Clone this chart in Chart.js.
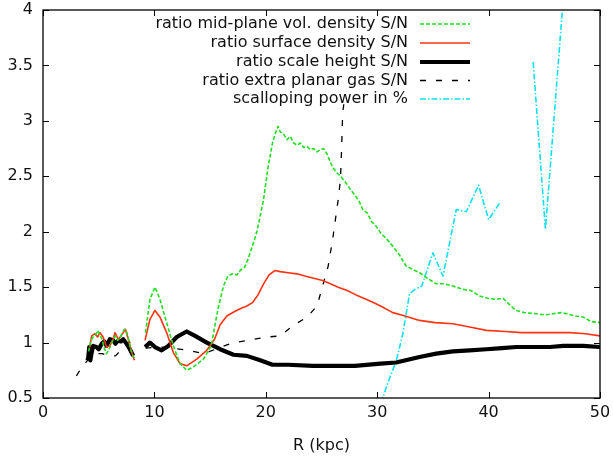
<!DOCTYPE html>
<html>
<head>
<meta charset="utf-8">
<script src="https://cdn.jsdelivr.net/npm/chart.js@4/dist/chart.umd.min.js"></script>
<style>
html,body{margin:0;padding:0;background:#fff;}
#wrap{width:613px;height:457px;position:relative;}
</style>
</head>
<body>
<div id="wrap"><canvas id="c" width="613" height="457"></canvas></div>
<script>
// ---- data ----
const labels = [
  'ratio mid-plane vol. density S/N',
  'ratio surface density S/N',
  'ratio scale height S/N',
  'ratio extra planar gas S/N',
  'scalloping power in %'
];
const xTicks = [0, 10, 20, 30, 40, 50];
const yTicks = [0.5, 1, 1.5, 2, 2.5, 3, 3.5, 4];

// mid-plane volume density ratio (null = gap)
const midR = [4.1,4.3,4.5,4.7,4.9,5.1,5.3,5.5,5.7,5.9,6.1,6.3,6.5,6.7,6.9,7.1,7.3,7.5,7.7,7.9,8.1,8.2,
  8.6,
  9.2,9.6,10.05,10.5,11.1,11.7,12.3,12.9,13.5,14.4,15.1,15.7,16.2,16.6,17.0,17.4,17.7,18.1,18.4,18.8,19.2,19.8,20.2,20.6,20.9,21.1,21.3,21.6,21.9,22.2,22.5,22.8,23.1,23.4,23.7,24.0,24.3,24.6,24.9,25.2,25.5,26.0,26.4,26.8,27.2,27.6,28.0,28.4,28.7,29.1,29.5,29.9,30.3,30.8,31.4,32.0,32.6,33.2,33.8,34.5,35.3,36.0,36.8,37.7,38.4,39.2,39.9,40.7,41.3,42.0,42.5,43.2,44.3,45.0,45.8,46.5,47.0,47.8,48.5,49.2,50];
const midV = [0.92,1.02,1.05,1.06,1.11,1.07,1.03,0.95,0.90,0.93,0.98,1.03,1.06,1.02,1.04,1.08,1.12,1.10,1.02,0.93,0.88,0.86,
  null,
  1.09,1.39,1.50,1.39,1.18,0.97,0.81,0.75,0.78,0.85,0.97,1.30,1.51,1.60,1.62,1.61,1.65,1.68,1.75,1.87,2.00,2.29,2.58,2.80,2.90,2.95,2.90,2.88,2.83,2.86,2.80,2.78,2.80,2.76,2.77,2.74,2.75,2.72,2.74,2.75,2.70,2.58,2.53,2.49,2.44,2.38,2.33,2.27,2.20,2.17,2.09,2.05,1.99,1.94,1.87,1.79,1.69,1.66,1.63,1.58,1.53,1.53,1.51,1.48,1.47,1.42,1.40,1.39,1.40,1.33,1.29,1.27,1.26,1.25,1.26,1.27,1.26,1.24,1.23,1.19,1.18];

// surface density ratio
const surfR = [4.2,4.37,4.67,4.9,5.1,5.4,5.7,6.0,6.3,6.46,6.76,7.0,7.2,7.4,7.66,7.96,8.2,
  8.6,
  9.16,9.6,10.05,10.5,11.1,11.7,12.3,12.9,13.8,14.7,15.4,15.9,16.5,17.2,17.8,18.3,18.8,19.3,19.8,20.3,20.8,21.3,22.0,22.8,23.5,24.3,25.1,25.8,26.5,27.3,28.1,29.0,29.7,30.3,31.4,32.5,33.8,35.2,36.8,38.3,39.8,41.5,43.0,44.3,45.8,47.3,48.7,50];
const surfV = [0.96,1.06,1.08,1.05,1.09,1.05,0.96,0.97,1.03,1.09,1.03,1.06,1.09,1.12,1.03,0.91,0.84,
  null,
  1.02,1.21,1.29,1.23,1.09,0.91,0.81,0.79,0.85,0.93,1.03,1.16,1.24,1.28,1.31,1.33,1.36,1.43,1.53,1.61,1.65,1.64,1.63,1.62,1.60,1.58,1.56,1.53,1.50,1.47,1.43,1.39,1.36,1.33,1.27,1.24,1.20,1.18,1.17,1.14,1.11,1.10,1.09,1.09,1.09,1.09,1.08,1.06];

// scale height ratio
const hR = [4.0,4.07,4.15,4.25,4.35,4.5,4.8,5.0,5.27,5.5,5.7,6.0,6.3,6.5,6.76,7.0,7.2,7.5,7.8,8.1,
  8.6,
  9.16,9.6,10.05,10.65,11.25,12.0,12.9,13.65,14.7,15.9,17.1,18.3,19.5,20.6,22.0,24.2,26.0,28.0,30.3,31.7,33.8,35.3,36.8,38.3,39.8,41.2,42.5,44.0,45.5,46.7,48.5,50];
const hV = [0.84,0.87,0.96,0.84,0.90,0.97,0.96,0.94,0.99,1.01,0.97,1.03,1.02,0.99,1.02,1.01,1.03,0.99,0.94,0.88,
  null,
  0.96,1.00,0.96,0.93,0.97,1.05,1.10,1.06,1.00,0.94,0.89,0.88,0.84,0.80,0.80,0.79,0.79,0.79,0.81,0.82,0.87,0.90,0.92,0.93,0.94,0.95,0.96,0.96,0.96,0.97,0.97,0.96];

// extra planar gas ratio
const epR = [3.0,3.5,4.0,4.5,5.0,5.3,5.9,6.5,7.0,7.5,8.1,
  8.6,
  9.2,10.5,11.5,13.0,14.4,15.5,16.8,18.3,20.1,21.3,22.4,23.7,24.6,25.1,25.6,26.0,26.5,26.7,26.8,26.9,27.0];
const epV = [0.70,0.78,0.84,0.88,0.90,0.90,0.88,0.88,0.93,0.98,1.03,
  null,
  0.95,0.96,0.95,0.93,0.90,0.94,0.99,1.02,1.05,1.06,1.15,1.23,1.33,1.51,1.69,1.93,2.29,2.47,2.74,3.07,3.15];

// scalloping power in %
const scR = [30.2,30.5,31.0,31.7,32.3,32.9,33.4,34.0,35.0,35.9,37.1,38.0,39.1,40.0,41.0,
  42.5,
  44.0,45.1,46.6,47.0];
const scV = [0.35,0.50,0.65,0.83,1.08,1.44,1.48,1.51,1.81,1.60,2.20,2.18,2.42,2.11,2.26,
  null,
  3.53,2.02,3.97,4.30];

function pts(xs, ys){ return xs.map((x,i)=>({x:x, y:ys[i]})); }

const FONT = '"DejaVu Sans", sans-serif';

const dsStyle = [
  {color:'#22dd22', width:1.6, dash:[4,2]},
  {color:'#ff3311', width:1.6, dash:[]},
  {color:'#000000', width:4.2, dash:[]},
  {color:'#000000', width:1.3, dash:[6,10]},
  {color:'#11e0ee', width:1.6, dash:[6,2,1.5,2]}
];
const series = [pts(midR,midV), pts(surfR,surfV), pts(hR,hV), pts(epR,epV), pts(scR,scV)];

const datasets = series.map((d,i)=>({
  label: labels[i],
  data: d,
  borderColor: dsStyle[i].color,
  borderWidth: dsStyle[i].width,
  borderDash: dsStyle[i].dash,
  borderJoinStyle: 'round',
  borderCapStyle: 'butt',
  pointRadius: 0,
  tension: 0,
  spanGaps: false,
  fill: false
}));

const framePlugin = {
  id:'frame',
  afterDraw(chart){
    const {ctx, chartArea:a, scales:{x,y}} = chart;
    ctx.save();
    ctx.strokeStyle = '#000';
    ctx.lineWidth = 1;
    ctx.setLineDash([]);
    ctx.beginPath();
    const L = 6;
    xTicks.forEach(v=>{
      const px = Math.round(x.getPixelForValue(v))+0.5;
      ctx.moveTo(px, a.bottom); ctx.lineTo(px, a.bottom-L);
      ctx.moveTo(px, a.top); ctx.lineTo(px, a.top+L);
    });
    yTicks.forEach(v=>{
      const py = Math.round(y.getPixelForValue(v))+0.5;
      ctx.moveTo(a.left, py); ctx.lineTo(a.left+L, py);
      ctx.moveTo(a.right, py); ctx.lineTo(a.right-L, py);
    });
    ctx.stroke();
    ctx.lineWidth = 1.3;
    ctx.strokeRect(a.left, a.top, a.right-a.left, a.bottom-a.top);
    // key
    ctx.font = '16px ' + FONT;
    ctx.fillStyle = '#111';
    ctx.textAlign = 'right';
    ctx.textBaseline = 'middle';
    const rows = [24, 43, 62, 80.5, 99];
    chart.data.datasets.forEach((ds,i)=>{
      const yy = rows[i];
      ctx.fillText(ds.label, 408, yy);
      ctx.beginPath();
      ctx.strokeStyle = ds.borderColor;
      ctx.lineWidth = ds.borderWidth;
      ctx.setLineDash(ds.borderDash);
      ctx.moveTo(420, yy); ctx.lineTo(470, yy);
      ctx.stroke();
    });
    ctx.restore();
  }
};

new Chart(document.getElementById('c'), {
  type:'line',
  data:{datasets},
  options:{
    responsive:false,
    animation:false,
    layout:{padding:{top:10, right:13, left:0, bottom:0}},
    plugins:{legend:{display:false}, tooltip:{enabled:false}},
    scales:{
      x:{
        type:'linear', min:0, max:50,
        afterBuildTicks: s => { s.ticks = xTicks.map(v=>({value:v})); },
        afterFit: s => { s.height = 59; s.paddingLeft = 0; s.paddingRight = 0; },
        grid:{display:false, drawTicks:false},
        border:{display:false},
        ticks:{padding:5, color:'#111', font:{family:FONT, size:16}, maxRotation:0, callback: v => String(v)},
        title:{display:true, text:'R (kpc)', color:'#111', font:{family:FONT, size:16}, padding:{top:0,bottom:2}}
      },
      y:{
        type:'linear', min:0.5, max:4,
        afterBuildTicks: s => { s.ticks = yTicks.map(v=>({value:v})); },
        afterFit: s => { s.width = 43; s.paddingTop = 0; s.paddingBottom = 0; },
        grid:{display:false, drawTicks:false},
        border:{display:false},
        ticks:{padding:10, color:'#111', font:{family:FONT, size:16}, callback: v => String(v)}
      }
    }
  },
  plugins:[framePlugin]
});
</script>
</body>
</html>
